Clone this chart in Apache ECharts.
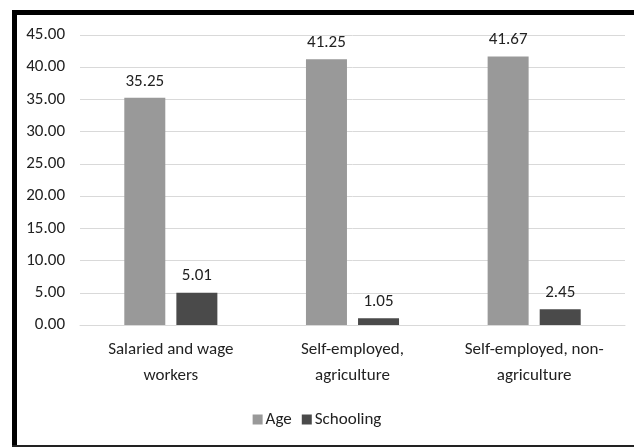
<!DOCTYPE html>
<html>
<head>
<meta charset="utf-8">
<script src="https://cdn.jsdelivr.net/npm/echarts@6/dist/echarts.min.js"></script>
<style>
  html, body { margin: 0; padding: 0; background: #fff; }
  #main { width: 634px; height: 447px; }
</style>
</head>
<body>
<div id="main"></div>
<script>
// values
let categories = ['Salaried and wage\nworkers', 'Self-employed,\nagriculture', 'Self-employed, non-\nagriculture']
let ageValues = [35.25, 41.25, 41.67]
let schoolingValues = [5.01, 1.05, 2.45]
let seriesNames = ['Age', 'Schooling']

let font = 'Carlito, Lato, sans-serif'
let txt = '#222222'
let fs = 17

let myChart = echarts.init(document.getElementById('main'))
let option = {
  backgroundColor: '#fff',
  animation: false,
  textStyle: { fontFamily: font },
  grid: { left: 80, right: 9, top: 35, bottom: 122 },
  legend: {
    data: seriesNames,
    bottom: 14,
    left: 'center',
    itemWidth: 10,
    itemHeight: 10,
    itemGap: 10,
    icon: 'rect',
    textStyle: { fontFamily: font, fontSize: fs, color: txt, padding: [0, 0, 0, -2] }
  },
  xAxis: {
    type: 'category',
    data: categories,
    axisLine: { lineStyle: { color: '#d9d9d9' } },
    axisTick: { show: false },
    axisLabel: { fontFamily: font, fontSize: fs, color: txt, lineHeight: 26, margin: 12, interval: 0 }
  },
  yAxis: {
    type: 'value',
    min: 0,
    max: 45,
    interval: 5,
    axisLine: { show: false },
    axisTick: { show: false },
    splitLine: { lineStyle: { color: '#d9d9d9' } },
    axisLabel: {
      fontFamily: font, fontSize: fs, color: txt, margin: 15,
      formatter: v => v.toFixed(2)
    }
  },
  graphic: [
    { type: 'rect', shape: { x: 12, y: 10, width: 5, height: 437 }, style: { fill: '#000' } },
    { type: 'rect', shape: { x: 12, y: 10, width: 622, height: 5 }, style: { fill: '#000' } },
    { type: 'rect', shape: { x: 12, y: 445, width: 622, height: 2 }, style: { fill: '#222' } }
  ],
  series: [
    {
      name: seriesNames[0],
      type: 'bar',
      data: ageValues,
      barWidth: 41,
      barGap: '27%',
      itemStyle: { color: '#999999' },
      label: { show: true, position: 'top', distance: 8, fontFamily: font, fontSize: fs, color: txt, formatter: p => p.value.toFixed(2) }
    },
    {
      name: seriesNames[1],
      type: 'bar',
      data: schoolingValues,
      barWidth: 41,
      itemStyle: { color: '#4a4a4a' },
      label: { show: true, position: 'top', distance: 8, fontFamily: font, fontSize: fs, color: txt, formatter: p => p.value.toFixed(2) }
    }
  ]
}
myChart.setOption(option)
</script>
</body>
</html>
